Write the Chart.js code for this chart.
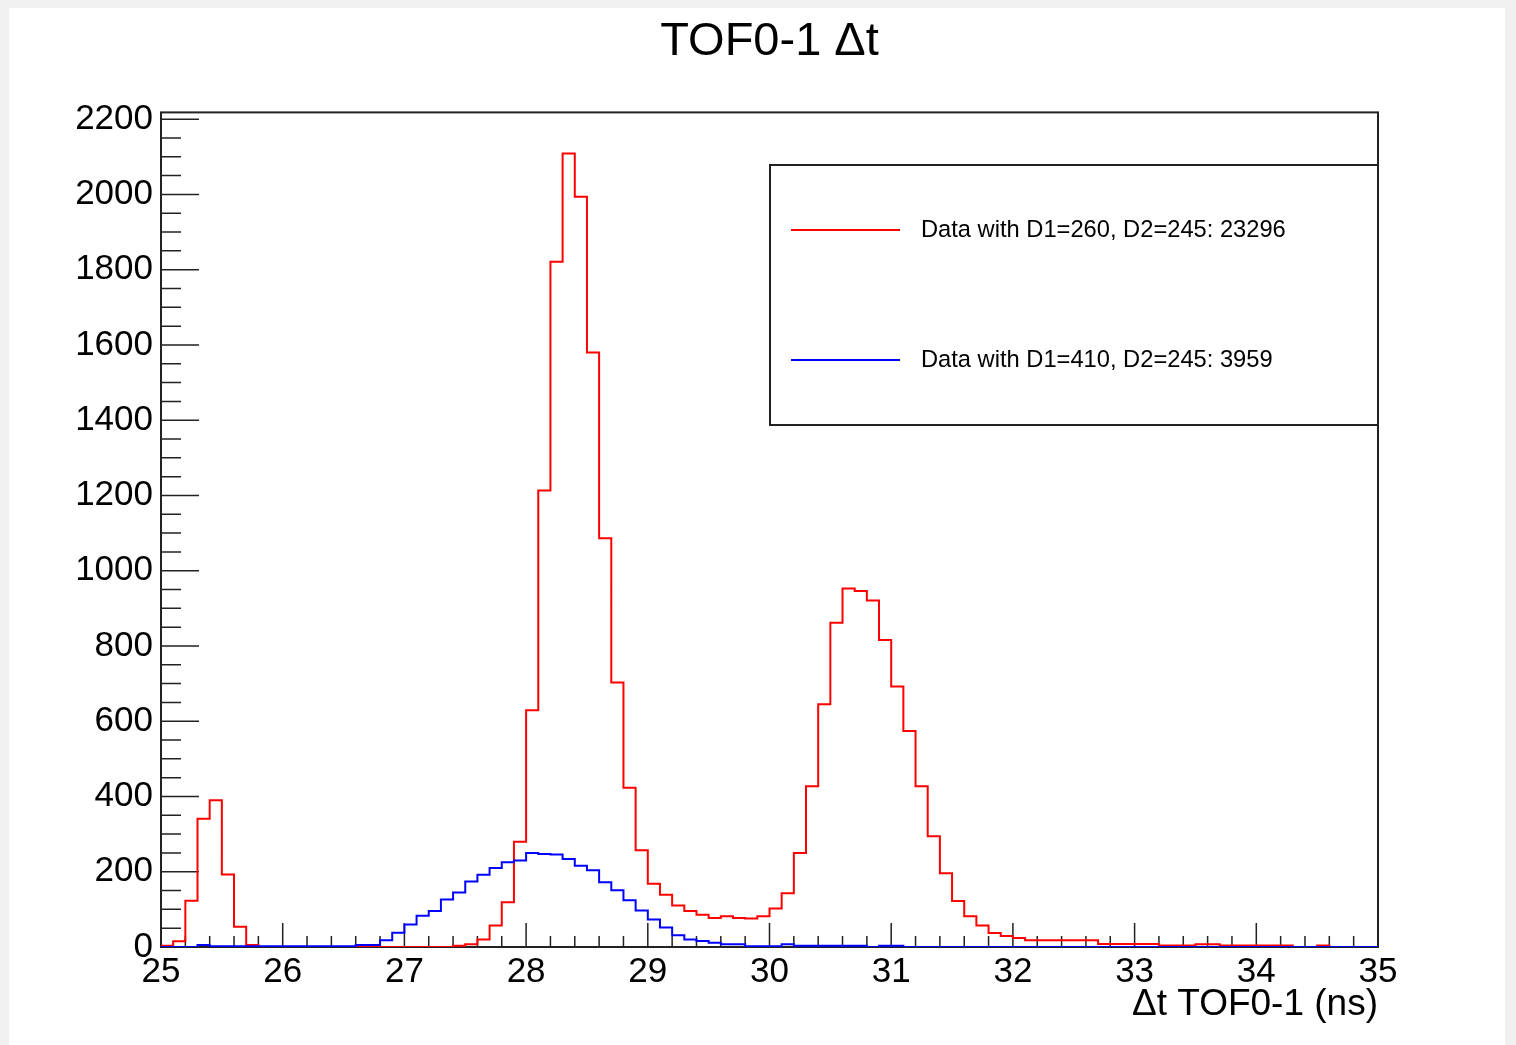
<!DOCTYPE html>
<html>
<head>
<meta charset="utf-8">
<script src="https://cdn.jsdelivr.net/npm/chart.js@4.4.1/dist/chart.umd.min.js"></script>
<style>
  html, body { margin: 0; padding: 0; background: #f0f0f0; }
  #wrap { position: absolute; left: 0; top: 0; width: 1516px; height: 1045px; }
</style>
</head>
<body>
<div id="wrap"><canvas id="cTof"></canvas></div>
<script>
// TOF0-1 Δt — two histograms, 100 bins of 0.1 ns between 25 and 35 ns
const FONT = "'Liberation Sans', Arial, Helvetica, sans-serif";

const xMin = 25, xMax = 35, nBins = 100;
const binEdges = Array.from({ length: nBins + 1 }, (_, i) => +(xMin + i * (xMax - xMin) / nBins).toFixed(1));

const xTickLabels = [25, 26, 27, 28, 29, 30, 31, 32, 33, 34, 35];
const yTickLabels = [0, 200, 400, 600, 800, 1000, 1200, 1400, 1600, 1800, 2000, 2200];
const yTop = 2218;

const redLabel = 'Data with D1=260, D2=245: 23296';
const blueLabel = 'Data with D1=410, D2=245: 3959';

// counts per bin
const redCounts = [
  3, 15, 123, 341, 390, 193, 54, 5, 0, 0,
  0, 0, 0, 0, 0, 0, 0, 0, 0, 0,
  0, 0, 0, 0, 3, 7, 20, 57, 119, 280,
  629, 1213, 1821, 2109, 1994, 1580, 1086, 703, 423, 257,
  168, 139, 110, 96, 86, 77, 82, 77, 76, 82,
  102, 143, 250, 427, 645, 862, 953, 946, 921, 816,
  692, 574, 427, 294, 196, 122, 82, 57, 37, 29,
  24, 18, 18, 18, 18, 18, 18, 8, 8, 8,
  8, 8, 4, 4, 4, 7, 7, 4, 4, 4,
  4, 4, 4, 0, 0, 4, 0, 0, 0, 0
];
const blueCounts = [
  0, 0, 0, 5, 2, 2, 2, 2, 2, 2,
  2, 2, 2, 2, 2, 2, 5, 5, 18, 38,
  60, 83, 96, 126, 145, 174, 192, 210, 225, 230,
  250, 247, 246, 234, 216, 204, 172, 151, 124, 97,
  73, 52, 31, 20, 16, 11, 7, 7, 2, 2,
  2, 7, 3, 3, 3, 3, 3, 3, 0, 3,
  3, 0, 0, 0, 0, 0, 0, 0, 0, 0,
  0, 0, 0, 0, 0, 0, 0, 0, 0, 0,
  0, 0, 0, 0, 0, 0, 0, 0, 0, 0,
  0, 0, 0, 0, 0, 0, 0, 0, 0, 0
];

// bin contents -> step outline points (left edge of each bin + closing right edge)
function steps(counts) {
  const pts = counts.map((c, i) => ({ x: binEdges[i], y: c }));
  pts.push({ x: binEdges[counts.length], y: counts[counts.length - 1] });
  return pts;
}

// ROOT-style frame: box, ticks inside, legend box
const rootFrame = {
  id: 'rootFrame',
  beforeDraw(chart) {
    const { ctx, width, height } = chart;
    ctx.save();
    ctx.fillStyle = '#f0f0f0';
    ctx.fillRect(0, 0, width, height);
    ctx.fillStyle = '#ffffff';
    ctx.fillRect(9, 8, 1496, height - 8);
    ctx.restore();
  },
  beforeDatasetsDraw(chart) {
    const { ctx, chartArea: a, scales: { x, y } } = chart;
    ctx.save();
    ctx.strokeStyle = '#222';
    ctx.lineWidth = 1.5;
    ctx.beginPath();
    for (let k = 0; k <= 50; k++) {
      const px = x.getPixelForValue(xMin + k * 0.2);
      const len = k % 5 === 0 ? 24 : 11;
      ctx.moveTo(px, a.bottom);
      ctx.lineTo(px, a.bottom - len);
    }
    for (let v = 0; v <= yTop; v += 50) {
      const py = y.getPixelForValue(v);
      const len = v % 200 === 0 ? 38 : 20;
      ctx.moveTo(a.left, py);
      ctx.lineTo(a.left + len, py);
    }
    ctx.stroke();
    ctx.lineWidth = 2;
    ctx.strokeRect(a.left, a.top, a.right - a.left, a.bottom - a.top);
    ctx.restore();
  },
  afterDatasetsDraw(chart) {
    const { ctx, chartArea: a } = chart;
    const box = { left: 770, top: 165, right: a.right, bottom: 425 };
    ctx.save();
    ctx.fillStyle = '#fff';
    ctx.fillRect(box.left, box.top, box.right - box.left, box.bottom - box.top);
    ctx.strokeStyle = '#222';
    ctx.lineWidth = 2;
    ctx.strokeRect(box.left, box.top, box.right - box.left, box.bottom - box.top);
    const rows = [230, 360];
    chart.data.datasets.slice().sort((p, q) => p.legendRow - q.legendRow).forEach((ds, i) => {
      ctx.strokeStyle = ds.borderColor;
      ctx.lineWidth = 2;
      ctx.beginPath();
      ctx.moveTo(791, rows[i]);
      ctx.lineTo(900, rows[i]);
      ctx.stroke();
      ctx.fillStyle = '#000';
      ctx.font = `23.7px ${FONT}`;
      ctx.textAlign = 'left';
      ctx.textBaseline = 'middle';
      ctx.fillText(ds.label, 921, rows[i]);
    });
    ctx.restore();
  }
};

new Chart(document.getElementById('cTof').getContext('2d'), {
  type: 'line',
  data: {
    datasets: [
      {
        label: blueLabel, legendRow: 1,
        data: steps(blueCounts),
        borderColor: '#0000ff', borderWidth: 2,
        stepped: 'before', pointRadius: 0, fill: false, order: 0
      },
      {
        label: redLabel, legendRow: 0,
        data: steps(redCounts),
        borderColor: '#ff0000', borderWidth: 2,
        stepped: 'before', pointRadius: 0, fill: false, order: 1
      }
    ]
  },
  options: {
    responsive: true, maintainAspectRatio: false,
    animation: false,
    layout: { padding: { left: 0, right: 138, top: 0, bottom: 0 } },
    plugins: {
      legend: { display: false },
      tooltip: { enabled: false },
      title: {
        display: true, text: 'TOF0-1 Δt', fullSize: false,
        color: '#000', font: { family: FONT, size: 47, weight: 'normal' },
        padding: { top: 14, bottom: 42 }
      }
    },
    scales: {
      x: {
        type: 'linear', min: xMin, max: xMax,
        grid: { display: false, drawTicks: false },
        border: { display: false },
        afterBuildTicks: s => { s.ticks = xTickLabels.map(v => ({ value: v })); },
        ticks: {
          autoSkip: false, maxRotation: 0, padding: 4,
          color: '#000', font: { family: FONT, size: 35 },
          callback: v => String(v)
        },
        title: {
          display: true, text: 'Δt TOF0-1 (ns)', align: 'end',
          color: '#000', font: { family: FONT, size: 37 },
          padding: { top: 0, bottom: 18 }
        },
        afterFit: s => { s.height = 98; }
      },
      y: {
        min: 0, max: yTop,
        grid: { display: false, drawTicks: false },
        border: { display: false },
        afterBuildTicks: s => { s.ticks = yTickLabels.map(v => ({ value: v })); },
        ticks: {
          autoSkip: false, padding: 8,
          color: '#000', font: { family: FONT, size: 35 },
          callback: v => String(v)
        },
        afterFit: s => { s.width = 161; }
      }
    }
  },
  plugins: [rootFrame]
});
</script>
</body>
</html>
